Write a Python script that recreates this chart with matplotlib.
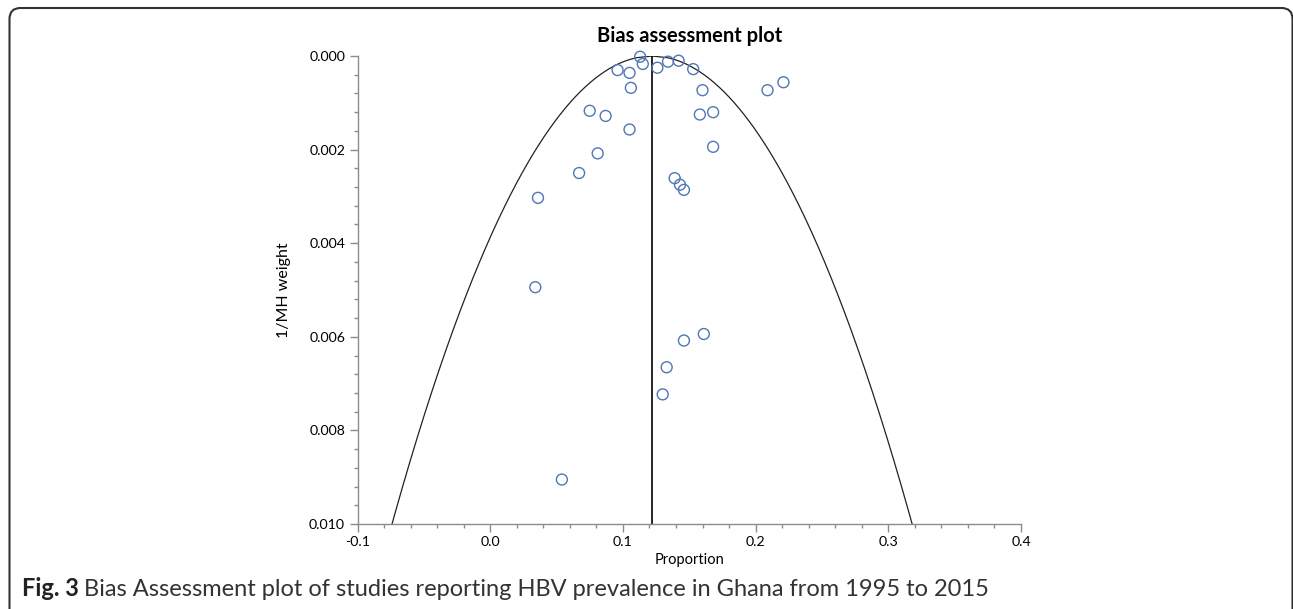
import matplotlib
matplotlib.use("Agg")
from matplotlib import pyplot as plt
from matplotlib.patches import FancyBboxPatch
from matplotlib.ticker import MultipleLocator
import numpy as np

# study proportions and 1/MH weight
proportion = [0.113, 0.115, 0.096, 0.105, 0.106, 0.126, 0.134, 0.142, 0.153,
              0.160, 0.209, 0.221, 0.075, 0.087, 0.105, 0.158, 0.168, 0.168,
              0.081, 0.067, 0.139, 0.143, 0.146, 0.036, 0.034, 0.146, 0.161,
              0.133, 0.130, 0.054]
inv_weight = [0.000015, 0.00017, 0.00030, 0.00036, 0.00068, 0.00025, 0.00012,
              0.00010, 0.00028, 0.00073, 0.00073, 0.00056, 0.00117, 0.00128,
              0.00157, 0.00125, 0.00120, 0.00194, 0.00208, 0.00250, 0.00261,
              0.00275, 0.00286, 0.00303, 0.00494, 0.00608, 0.00594, 0.00665,
              0.00723, 0.00905]
pooled = 0.122
z = 1.96

font = "Lato"
plt.rcParams["font.family"] = [font, "DejaVu Sans"]

fig = plt.figure(figsize=(12.93, 6.09), dpi=100)
ax = fig.add_axes([0.2765, 0.1396, 0.5131, 0.7684])

# confidence limits of the pooled proportion
v = np.linspace(0, 0.0105, 300)
ax.plot(pooled - z * np.sqrt(v), v, color="#222222", lw=0.9)
ax.plot(pooled + z * np.sqrt(v), v, color="#222222", lw=0.9)
ax.plot([pooled, pooled], [0, 0.0105], color="black", lw=1.2)

ax.scatter(proportion, inv_weight, s=62, facecolors="none",
           edgecolors="#4f76b5", linewidths=1.0, zorder=3, clip_on=False)

ax.set_xlim(-0.1, 0.4)
ax.set_ylim(0.010, 0.0)
ax.xaxis.set_major_locator(MultipleLocator(0.1))
ax.xaxis.set_minor_locator(MultipleLocator(0.02))
ax.yaxis.set_major_locator(MultipleLocator(0.002))
ax.yaxis.set_minor_locator(MultipleLocator(0.0004))
ax.xaxis.set_major_formatter(lambda x, pos: f"{x:.1f}")
ax.yaxis.set_major_formatter(lambda y, pos: f"{y:.3f}")

for s in ["top", "right"]:
    ax.spines[s].set_visible(False)
for s in ["left", "bottom"]:
    ax.spines[s].set_color("#8c8c8c")
    ax.spines[s].set_linewidth(1.0)
ax.tick_params(which="major", length=6, width=1, color="#8c8c8c",
               labelsize=10.2, labelcolor="black", pad=3)
ax.tick_params(which="minor", length=3, width=1, color="#8c8c8c")

ax.set_xlabel("Proportion", fontsize=10.5, labelpad=3)
ax.set_ylabel("1/MH weight", fontsize=11.5, labelpad=13)
ax.set_title("Bias assessment plot", fontsize=14.5, fontweight="bold", pad=10)

# rounded figure frame
frame = FancyBboxPatch((9.5, -20), 1283, 621, boxstyle="round,pad=0,rounding_size=11",
                       transform=None, fill=False, ec="#333333", lw=1.5)
fig.patches.append(frame)

cap_y = 1 - 589 / 609
t1 = fig.text(22 / 1293, cap_y, "Fig. 3", fontsize=17, fontweight="bold",
              color="#222222", va="center")
fig.canvas.draw()
x_end = t1.get_window_extent().x1
fig.text((x_end + 5) / 1293, cap_y,
         "Bias Assessment plot of studies reporting HBV prevalence in Ghana from 1995 to 2015",
         fontsize=17, color="#333333", va="center")

fig.savefig("out.png", dpi=100)
